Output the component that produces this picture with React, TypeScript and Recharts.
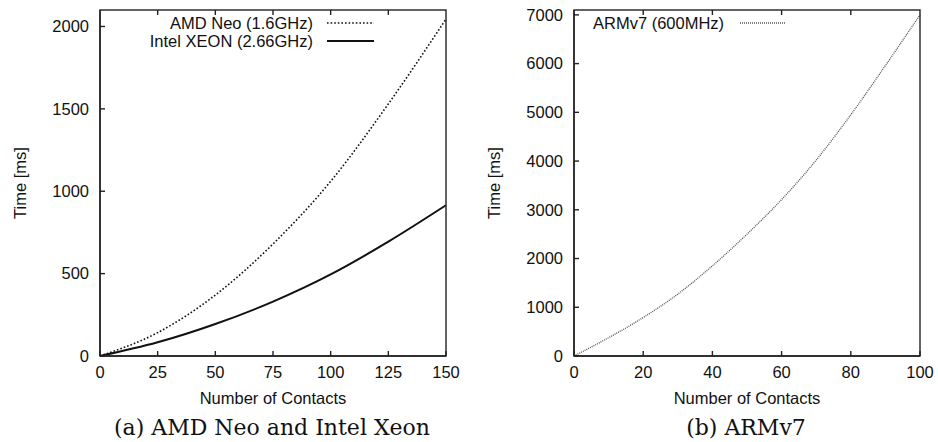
import React from 'react';
import { LineChart, Line, XAxis, YAxis } from 'recharts';

// panel (a): AMD Neo vs Intel Xeon
const contactsA = [0, 25, 50, 75, 100, 125, 150];
const amdNeo = [0, 142, 370, 680, 1060, 1530, 2045];
const intelXeon = [0, 83, 194, 330, 495, 694, 915];
const xTicksA = [0, 25, 50, 75, 100, 125, 150];
const yTicksA = [0, 500, 1000, 1500, 2000];

// panel (b): ARMv7
const contactsB = [0, 10, 20, 30, 40, 50, 60, 70, 80, 90, 100];
const armv7 = [0, 375, 790, 1270, 1850, 2500, 3210, 4020, 4950, 5960, 7000];
const xTicksB = [0, 20, 40, 60, 80, 100];
const yTicksB = [0, 1000, 2000, 3000, 4000, 5000, 6000, 7000];

const dataA = contactsA.map((c, i) => ({ contacts: c, amd: amdNeo[i], intel: intelXeon[i] }));
const dataB = contactsB.map((c, i) => ({ contacts: c, arm: armv7[i] }));

const SANS = '"Liberation Sans", Arial, Helvetica, sans-serif';
const FRAME = '#222';
const tickFont = { fontFamily: SANS, fontSize: 16.5, fill: '#111' };
const PLOT = 346; // square plot box, px
const PLOT_TOP = 10;

const series: Record<string, { name: string; stroke: string; width: number; dash?: string }> = {
  amd: { name: 'AMD Neo (1.6GHz)', stroke: '#111', width: 1.6, dash: '1.6 2' },
  intel: { name: 'Intel XEON (2.66GHz)', stroke: '#111', width: 2 },
  arm: { name: 'ARMv7 (600MHz)', stroke: '#555', width: 1.3, dash: '1 1' },
};

const yLabel = (props: any) => {
  const { x, y, height } = props.viewBox;
  const cy = y + height / 2;
  return (
    <text x={x} y={cy} transform={`rotate(-90 ${x} ${cy})`} textAnchor="middle" dominantBaseline="central"
      style={{ fontFamily: SANS, fontSize: 16.5, fill: '#111' }}>
      Time [ms]
    </text>
  );
};

const xLabel = (props: any) => {
  const { x, y, width } = props.viewBox;
  return (
    <text x={x + width / 2} y={y + 42} textAnchor="middle" dominantBaseline="central"
      style={{ fontFamily: SANS, fontSize: 16.5, fill: '#111' }}>
      Number of Contacts
    </text>
  );
};

// gnuplot border with mirrored x tics on top
const Frame = ({ left, ticks, max }: { left: number; ticks: number[]; max: number }) => (
  <g>
    <rect x={left} y={PLOT_TOP} width={PLOT} height={PLOT} fill="none" stroke={FRAME} strokeWidth={1.4} />
    {ticks.slice(1, -1).map((t) => {
      const x = left + (t / max) * PLOT;
      return <line key={t} x1={x} x2={x} y1={PLOT_TOP} y2={PLOT_TOP + 5} stroke={FRAME} strokeWidth={1.4} />;
    })}
  </g>
);

const LegendRow = ({ k, y, textX, anchor, x1, x2 }: any) => {
  const s = series[k];
  return (
    <g>
      <text x={textX} y={y} textAnchor={anchor} dominantBaseline="central"
        style={{ fontFamily: SANS, fontSize: 16.5, fill: '#111' }}>{s.name}</text>
      <line x1={x1} x2={x2} y1={y} y2={y} stroke={s.stroke} strokeWidth={s.width} strokeDasharray={s.dash} />
    </g>
  );
};

const captionStyle: React.CSSProperties = {
  position: 'absolute',
  top: 415,
  fontFamily: '"DejaVu Serif", "Liberation Serif", serif',
  fontSize: 22,
  color: '#111',
  textAlign: 'center',
  whiteSpace: 'nowrap',
};

const App: React.FC = () => {
  return (
    <div style={{ position: 'absolute', left: 0, top: 0, width: 938, height: 442, background: '#fff' }}>
      <div style={{ position: 'absolute', left: 0, top: 0 }}>
        <LineChart width={470} height={442} data={dataA} margin={{ top: PLOT_TOP, right: 24, bottom: 36, left: 20 }}>
          <XAxis dataKey="contacts" type="number" domain={[0, 150]} ticks={xTicksA} height={50}
            stroke={FRAME} strokeWidth={1.4} tickSize={-5} tickMargin={15} tick={tickFont} label={xLabel} />
          <YAxis type="number" domain={[0, 2100]} ticks={yTicksA} width={80}
            stroke={FRAME} strokeWidth={1.4} tickSize={-5} tickMargin={16} tick={tickFont} label={yLabel} />
          <Line dataKey="amd" name={series.amd.name} type="monotone" dot={false} isAnimationActive={false}
            stroke={series.amd.stroke} strokeWidth={series.amd.width} strokeDasharray={series.amd.dash} />
          <Line dataKey="intel" name={series.intel.name} type="monotone" dot={false} isAnimationActive={false}
            stroke={series.intel.stroke} strokeWidth={series.intel.width} />
        </LineChart>
      </div>
      <div style={{ position: 'absolute', left: 470, top: 0 }}>
        <LineChart width={468} height={442} data={dataB} margin={{ top: PLOT_TOP, right: 18, bottom: 36, left: 24 }}>
          <XAxis dataKey="contacts" type="number" domain={[0, 100]} ticks={xTicksB} height={50}
            stroke={FRAME} strokeWidth={1.4} tickSize={-5} tickMargin={15} tick={tickFont} label={xLabel} />
          <YAxis type="number" domain={[0, 7100]} ticks={yTicksB} width={80}
            stroke={FRAME} strokeWidth={1.4} tickSize={-5} tickMargin={16} tick={tickFont} label={yLabel} />
          <Line dataKey="arm" name={series.arm.name} type="monotone" dot={false} isAnimationActive={false}
            stroke={series.arm.stroke} strokeWidth={series.arm.width} strokeDasharray={series.arm.dash} />
        </LineChart>
      </div>
      {/* overlay: borders and legends, gnuplot style */}
      <svg style={{ position: 'absolute', left: 0, top: 0, pointerEvents: 'none' }} width={938} height={442}>
        <Frame left={100} ticks={xTicksA} max={150} />
        <Frame left={574} ticks={xTicksB} max={100} />
        <LegendRow k="amd" y={23} textX={313} anchor="end" x1={327} x2={374} />
        <LegendRow k="intel" y={41} textX={313} anchor="end" x1={327} x2={374} />
        <LegendRow k="arm" y={23} textX={593} anchor="start" x1={740} x2={786} />
      </svg>
      <div style={{ ...captionStyle, left: 72, width: 400 }}>(a) AMD Neo and Intel Xeon</div>
      <div style={{ ...captionStyle, left: 596, width: 300 }}>(b) ARMv7</div>
    </div>
  );
};

export default App;
